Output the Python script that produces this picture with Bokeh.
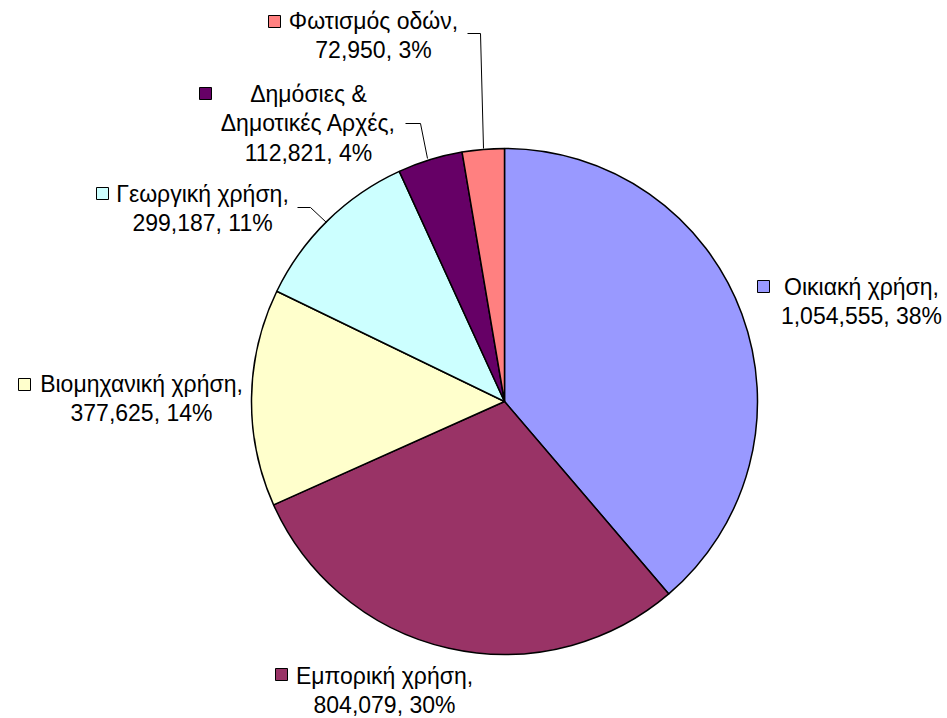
import math
from bokeh.plotting import figure
from bokeh.models import Range1d
from bokeh.embed import file_html
from bokeh.resources import INLINE
from bokeh.core.properties import value

# ---- data ----
categories = ["Οικιακή χρήση", "Εμπορική χρήση", "Βιομηχανική χρήση",
              "Γεωργική χρήση", "Δημόσιες & Δημοτικές Αρχές", "Φωτισμός οδών"]
values = [1054555, 804079, 377625, 299187, 112821, 72950]
pct_labels = ["38%", "30%", "14%", "11%", "4%", "3%"]
colors = ["#9999FF", "#993366", "#FFFFCC", "#CCFFFF", "#660066", "#FF8080"]
name_wrap = [["Οικιακή χρήση,"], ["Εμπορική χρήση,"], ["Βιομηχανική χρήση,"],
             ["Γεωργική χρήση,"], ["Δημόσιες &", "Δημοτικές Αρχές,"], ["Φωτισμός οδών,"]]

# ---- layout (page pixel coordinates) ----
W, H = 947, 718
CX, CY, R = 504, 401, 253
FONT = "Liberation Sans"
FS = "23px"
STEP = 29.5
BASE_FIX = -8
# label block: centre x, first baseline y, legend-key centre (x, y)
label_layout = [
    (861, 294, (763, 286)),
    (384, 683, (281, 674)),
    (141, 391, (24, 384)),
    (202, 201, (102, 193)),
    (308, 101, (205, 93)),
    (373, 28, (274, 21)),
]
leaders = [
    None, None, None,
    ([297, 310, 326], [207, 207, 222]),
    ([405, 420, 427], [123, 123, 158]),
    ([467, 480, 483], [33, 33, 148]),
]


def Y(y):
    return H - y


p = figure(width=W, height=H, x_range=Range1d(0, W), y_range=Range1d(0, H),
           output_backend="svg", toolbar_location=None, min_border=0,
           x_axis_type=None, y_axis_type=None)
p.grid.visible = False
p.outline_line_color = None
p.background_fill_color = "white"
p.border_fill_color = "white"

total = sum(values)
starts, ends = [], []
cum = 0.0
for v in values:
    starts.append(math.pi / 2 - 2 * math.pi * cum / total)
    cum += v
    ends.append(math.pi / 2 - 2 * math.pi * cum / total)

p.wedge(x=[CX] * len(values), y=[Y(CY)] * len(values), radius=R,
        start_angle=starts, end_angle=ends, direction="clock",
        fill_color=colors, line_color="black", line_width=1.5)

for i in range(len(values)):
    lines = name_wrap[i] + [f"{values[i]:,}, {pct_labels[i]}"]
    cx, y0, (kx, ky) = label_layout[i]
    ys = [Y(y0 + BASE_FIX + k * STEP) for k in range(len(lines))]
    p.text(x=[cx] * len(lines), y=ys, text=lines, text_font=value(FONT),
           text_font_size=FS, text_align="center", text_baseline="alphabetic",
           text_color="black")
    p.rect(x=[kx], y=[Y(ky)], width=12, height=12, fill_color=colors[i],
           line_color="black", line_width=1)
    if leaders[i]:
        xs, yy = leaders[i]
        p.line(x=xs, y=[Y(v) for v in yy], line_color="black", line_width=1)

open("out.html", "w").write(file_html(p, INLINE))
